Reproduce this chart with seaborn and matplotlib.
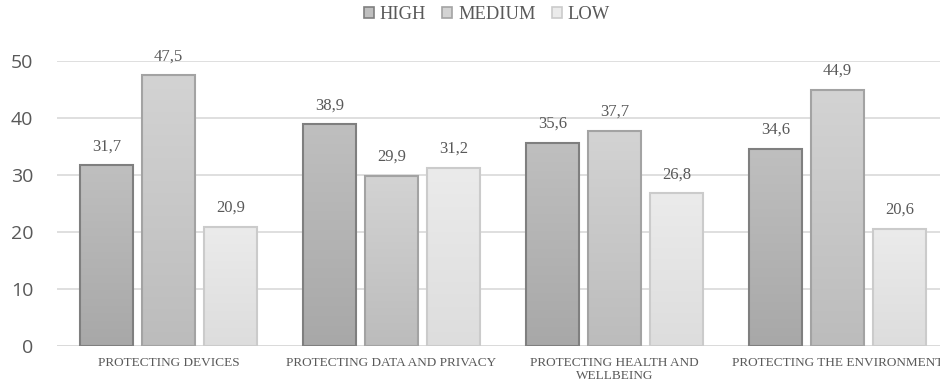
import numpy as np
import pandas as pd
import matplotlib
matplotlib.use("Agg")
import matplotlib.pyplot as plt
import seaborn as sns
from matplotlib.patches import Patch
from matplotlib.colors import LinearSegmentedColormap

categories = ["PROTECTING DEVICES", "PROTECTING DATA AND PRIVACY",
              "PROTECTING HEALTH AND\nWELLBEING", "PROTECTING THE ENVIRONMENT"]
series = ["HIGH", "MEDIUM", "LOW"]
high = [31.7, 38.9, 35.6, 34.6]
medium = [47.5, 29.9, 37.7, 44.9]
low = [20.9, 31.2, 26.8, 20.6]
yticks = [0, 10, 20, 30, 40, 50]

df = pd.DataFrame({
    "category": categories * 3,
    "level": [s for s in series for _ in categories],
    "value": high + medium + low,
})

fill_top = {"HIGH": "#bfbfbf", "MEDIUM": "#d3d3d3", "LOW": "#ebebeb"}
fill_bot = {"HIGH": "#a8a8a8", "MEDIUM": "#bcbcbc", "LOW": "#dddddd"}
edges = {"HIGH": "#7f7f7f", "MEDIUM": "#a3a3a3", "LOW": "#cbcbcb"}
mid = {k: fill_top[k] for k in series}

sns.set_theme(style="white")
fig = plt.figure(figsize=(9.40, 3.87), dpi=100)
ax = fig.add_axes([0.0606, 0.106, 0.949, 0.736])

sns.barplot(data=df, x="category", y="value", hue="level", hue_order=series,
            order=categories, palette=mid, width=0.834, gap=0.16,
            ax=ax, legend=False, zorder=3)

# gradient fill + edges
for container, s in zip(ax.containers, series):
    cmap = LinearSegmentedColormap.from_list(s, [fill_bot[s], fill_top[s]])
    for bar in container:
        x0, y0 = bar.get_x(), bar.get_y()
        w, h = bar.get_width(), bar.get_height()
        bar.set_edgecolor(edges[s])
        bar.set_linewidth(1.5)
        grad = np.linspace(0, 1, 100).reshape(-1, 1)
        im = ax.imshow(grad, cmap=cmap, origin="lower", aspect="auto",
                       extent=[x0, x0 + w, y0, y0 + h], zorder=3.5)
        im.set_clip_path(bar)
        bar.set_facecolor("none")
        bar.set_zorder(4)
    ax.bar_label(container, labels=[f"{v:.1f}".replace(".", ",") for v in container.datavalues],
                 padding=8, fontsize=12, color="#595959", family="Liberation Serif",
                 clip_on=False)

ax.set_xlim(-0.5, 3.5)
ax.set_ylim(0, 50)
ax.set_yticks(yticks)
ax.set_yticklabels([str(t) for t in yticks], fontsize=14, color="#595959",
                   family="Open Sans")
ax.tick_params(axis="y", length=0, pad=17)
ax.tick_params(axis="x", length=0, pad=8)
ax.set_xticks(range(len(categories)))
ax.set_xticklabels(categories, fontsize=9.5, color="#595959", family="Liberation Serif",
                   linespacing=1.1)
ax.set_xlabel("")
ax.set_ylabel("")
ax.yaxis.grid(True, color="#d9d9d9", linewidth=1.2, zorder=0)
ax.set_axisbelow(True)
for sp in ax.spines.values():
    sp.set_visible(False)
ax.axhline(0, color="#d9d9d9", linewidth=1.2, zorder=2)

handles = [Patch(facecolor=fill_top[s], edgecolor=edges[s], linewidth=1.2, label=s)
           for s in series]
fig.legend(handles=handles, loc="center", bbox_to_anchor=(0.518, 0.962), ncol=3,
           frameon=False, prop={"family": "Liberation Serif", "size": 13.3},
           labelcolor="#595959", handlelength=0.54, handleheight=0.54,
           handletextpad=0.3, columnspacing=0.9)

fig.savefig("out.png", dpi=100)
